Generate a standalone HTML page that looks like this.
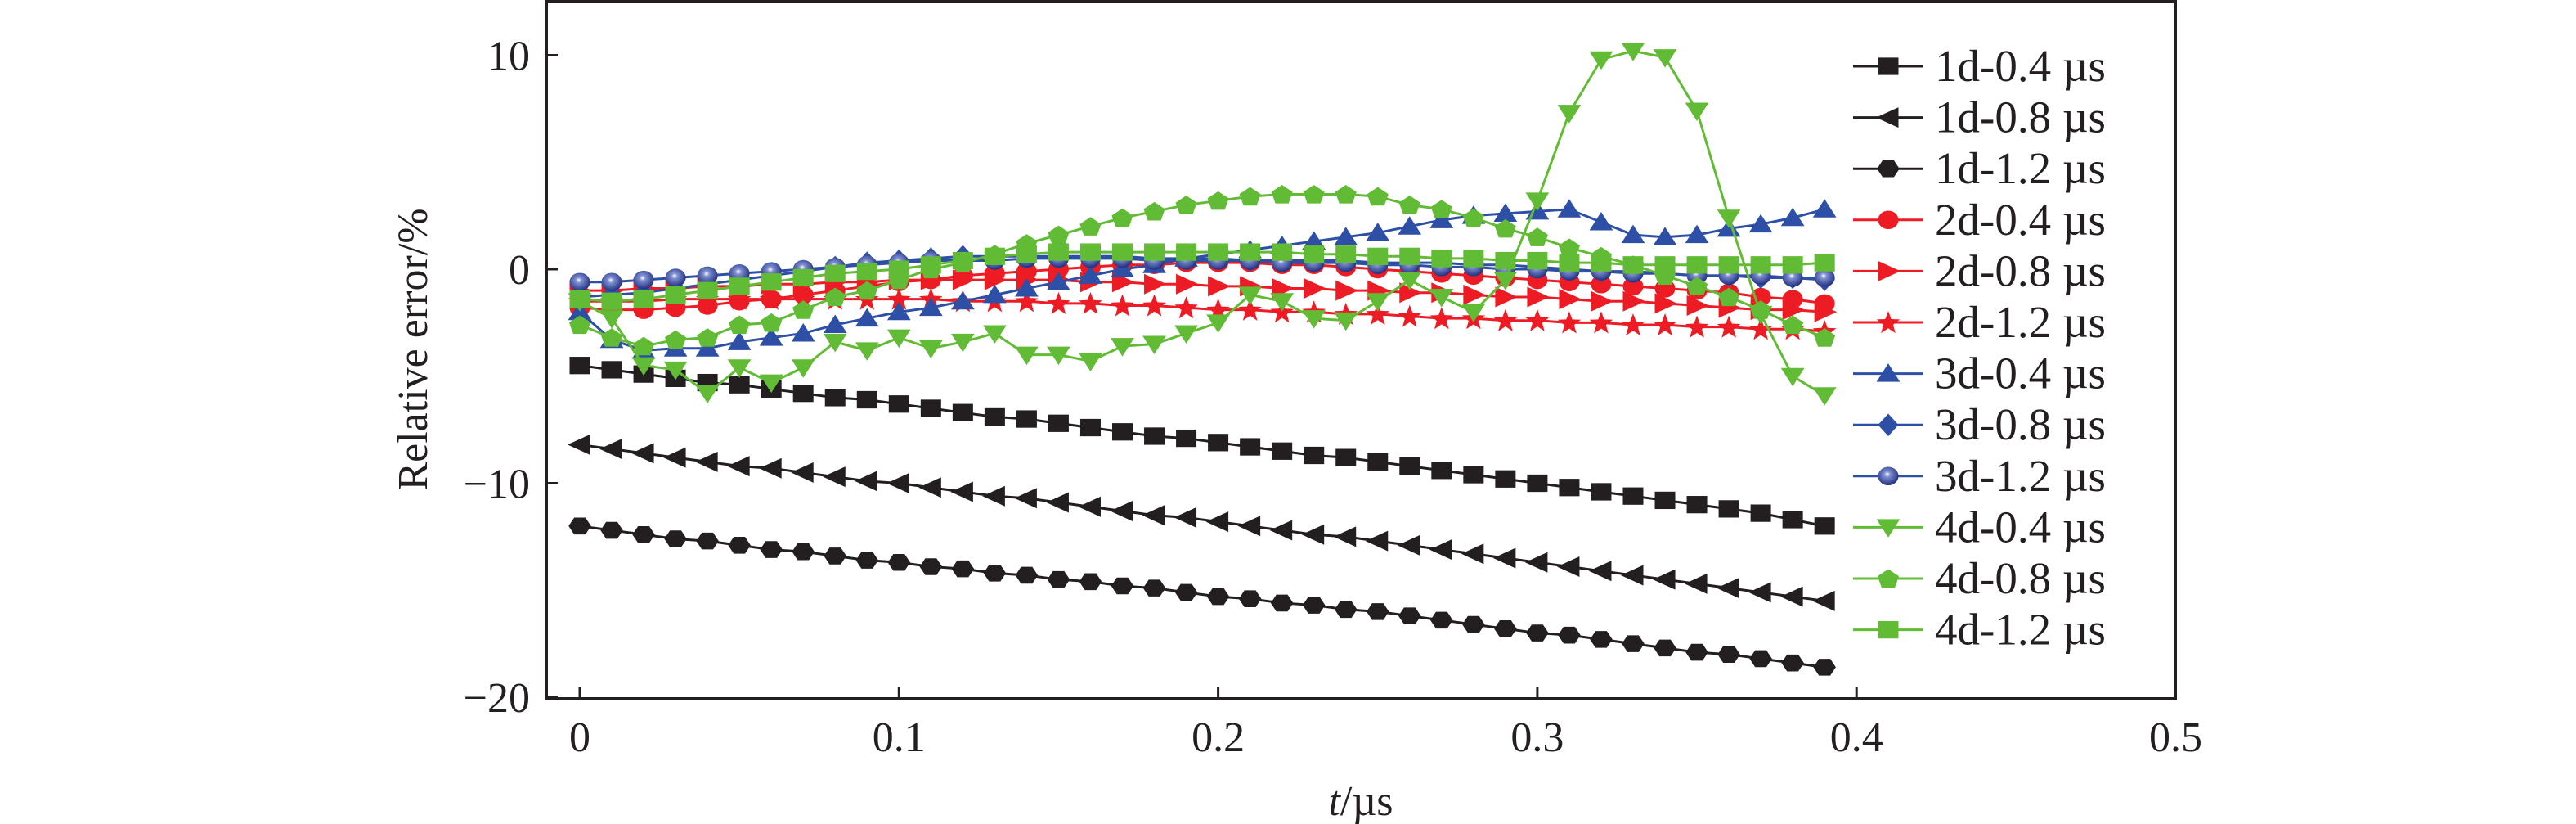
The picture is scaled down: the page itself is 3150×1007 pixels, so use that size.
<!DOCTYPE html>
<html><head><meta charset="utf-8"><style>
body{margin:0;background:#fff;}
svg{display:block;font-family:"Liberation Serif",serif;}
</style></head><body>
<svg id="chart" width="3150" height="1007" viewBox="0 0 3150 1007" xmlns="http://www.w3.org/2000/svg"></svg>
<script>
const tValues = Array.from({length:40},(_,i)=>+(i*0.01).toFixed(2));
const seriesNames = ["1d-0.4 µs","1d-0.8 µs","1d-1.2 µs","2d-0.4 µs","2d-0.8 µs","2d-1.2 µs","3d-0.4 µs","3d-0.8 µs","3d-1.2 µs","4d-0.4 µs","4d-0.8 µs","4d-1.2 µs"];
const s1d04 = [-4.5,-4.7,-4.9,-5.1,-5.3,-5.4,-5.6,-5.8,-6.0,-6.1,-6.3,-6.5,-6.7,-6.9,-7.0,-7.2,-7.4,-7.6,-7.8,-7.9,-8.1,-8.3,-8.5,-8.7,-8.8,-9.0,-9.2,-9.4,-9.6,-9.8,-10.0,-10.2,-10.4,-10.6,-10.8,-11.0,-11.2,-11.4,-11.7,-12.0];
const s1d08 = [-8.2,-8.4,-8.6,-8.8,-9.0,-9.2,-9.3,-9.5,-9.7,-9.9,-10.0,-10.2,-10.4,-10.6,-10.7,-10.9,-11.1,-11.3,-11.5,-11.6,-11.8,-12.0,-12.2,-12.4,-12.5,-12.7,-12.9,-13.1,-13.3,-13.5,-13.7,-13.9,-14.1,-14.3,-14.5,-14.7,-14.9,-15.1,-15.3,-15.5];
const s1d12 = [-12.0,-12.2,-12.4,-12.6,-12.7,-12.9,-13.1,-13.2,-13.4,-13.6,-13.7,-13.9,-14.0,-14.2,-14.3,-14.5,-14.6,-14.8,-14.9,-15.1,-15.3,-15.4,-15.6,-15.7,-15.9,-16.0,-16.2,-16.4,-16.6,-16.8,-17.0,-17.1,-17.3,-17.5,-17.7,-17.9,-18.0,-18.2,-18.4,-18.6];
const s2d04 = [-1.8,-1.9,-1.9,-1.8,-1.7,-1.5,-1.4,-1.2,-1.0,-0.8,-0.6,-0.5,-0.3,-0.2,-0.1,0.0,0.1,0.2,0.2,0.3,0.3,0.3,0.2,0.2,0.1,0.0,-0.1,-0.2,-0.3,-0.4,-0.5,-0.6,-0.7,-0.8,-0.9,-1.0,-1.1,-1.3,-1.4,-1.6];
const s2d08 = [-1.0,-1.0,-0.9,-0.9,-0.8,-0.8,-0.7,-0.7,-0.6,-0.6,-0.5,-0.5,-0.5,-0.5,-0.5,-0.5,-0.6,-0.6,-0.7,-0.7,-0.8,-0.8,-0.9,-0.9,-1.0,-1.0,-1.1,-1.1,-1.2,-1.3,-1.3,-1.4,-1.5,-1.5,-1.6,-1.7,-1.8,-1.9,-1.9,-2.0];
const s2d12 = [-1.5,-1.5,-1.5,-1.4,-1.4,-1.4,-1.4,-1.4,-1.4,-1.4,-1.4,-1.4,-1.5,-1.5,-1.5,-1.6,-1.6,-1.7,-1.7,-1.8,-1.9,-1.9,-2.0,-2.0,-2.1,-2.1,-2.2,-2.3,-2.3,-2.4,-2.4,-2.5,-2.5,-2.6,-2.6,-2.7,-2.7,-2.8,-2.8,-2.9];
const s3d04 = [-2.0,-3.3,-3.8,-3.7,-3.7,-3.4,-3.2,-3.0,-2.6,-2.3,-2.0,-1.8,-1.5,-1.2,-0.9,-0.6,-0.3,0.0,0.2,0.5,0.7,0.9,1.1,1.3,1.5,1.7,2.0,2.3,2.5,2.6,2.7,2.8,2.2,1.6,1.5,1.6,1.9,2.1,2.4,2.8];
const s3d08 = [-1.3,-1.2,-1.1,-0.9,-0.7,-0.5,-0.3,-0.1,0.1,0.3,0.4,0.5,0.6,0.6,0.6,0.6,0.6,0.6,0.5,0.5,0.5,0.4,0.4,0.4,0.4,0.3,0.3,0.3,0.2,0.2,0.1,0.0,-0.1,-0.1,-0.2,-0.3,-0.3,-0.4,-0.4,-0.5];
const s3d12 = [-0.6,-0.6,-0.5,-0.4,-0.3,-0.2,-0.1,0.0,0.1,0.2,0.3,0.4,0.4,0.4,0.5,0.5,0.5,0.5,0.4,0.4,0.4,0.4,0.3,0.3,0.3,0.2,0.2,0.1,0.1,0.0,0.0,-0.1,-0.1,-0.2,-0.2,-0.3,-0.3,-0.3,-0.4,-0.4];
const s4d04 = [-1.5,-2.3,-4.5,-4.7,-5.8,-4.6,-5.3,-4.6,-3.4,-3.8,-3.2,-3.7,-3.4,-3.0,-4.0,-4.0,-4.3,-3.6,-3.5,-3.0,-2.5,-1.2,-1.5,-2.3,-2.4,-1.5,-0.5,-1.3,-2.0,-0.5,3.2,7.3,9.8,10.2,9.9,7.4,2.4,-2.1,-5.0,-5.9];
const s4d08 = [-2.6,-3.2,-3.6,-3.3,-3.2,-2.6,-2.5,-1.9,-1.3,-1.0,-0.5,0.0,0.3,0.7,1.2,1.6,2.0,2.4,2.7,3.0,3.2,3.4,3.5,3.5,3.5,3.4,3.0,2.8,2.4,1.9,1.5,1.0,0.6,0.2,-0.3,-0.8,-1.3,-1.9,-2.6,-3.2];
const s4d12 = [-1.4,-1.5,-1.4,-1.2,-1.0,-0.8,-0.6,-0.4,-0.2,-0.1,0.0,0.2,0.4,0.6,0.7,0.8,0.8,0.8,0.8,0.8,0.8,0.8,0.8,0.7,0.7,0.6,0.6,0.5,0.5,0.4,0.4,0.3,0.3,0.2,0.2,0.2,0.2,0.2,0.2,0.3];
const xTicks = [0,0.1,0.2,0.3,0.4,0.5];
const xTickLabels = ["0","0.1","0.2","0.3","0.4","0.5"];
const yTicks = [10,0,-10,-20];
const yTickLabels = ["10","0","\u221210","\u221220"];

const allSeries = [s1d04,s1d08,s1d12,s2d04,s2d08,s2d12,s3d04,s3d08,s3d12,s4d04,s4d08,s4d12];
const colors = ["#231f20","#231f20","#231f20","#ed1c24","#ed1c24","#ed1c24","#2e4fa6","#2e4fa6","#2e4fa6","#62bb35","#62bb35","#62bb35"];
const markers = ["square","tleft","hex","circle","tright","star","tup","diamond","ball","tdown","pent","square"];
const NS="http://www.w3.org/2000/svg";
const svg=document.getElementById('chart');
const L=668,R=2660,T=0,B=854;
const xs=t=>709+t*3903;
const ys=v=>329-v*26.15;
function mk(tag,attrs,parent){const e=document.createElementNS(NS,tag);for(const k in attrs)e.setAttribute(k,attrs[k]);(parent||svg).appendChild(e);return e;}
const defs=mk('defs',{});
const rg=mk('radialGradient',{id:'ballg',cx:'0.45',cy:'0.4',r:'0.6'},defs);
mk('stop',{offset:'0','stop-color':'#ffffff'},rg);mk('stop',{offset:'0.25','stop-color':'#7f8fd0'},rg);mk('stop',{offset:'1','stop-color':'#1f2f80'},rg);

function marker(g,type,x,y,c){
  const s=12.5;
  let pts;
  switch(type){
    case 'square': return mk('rect',{x:x-s,y:y-s*0.85,width:2*s,height:1.7*s,fill:c},g);
    case 'circle': return mk('ellipse',{cx:x,cy:y,rx:s,ry:s*0.9,fill:c},g);
    case 'ball': return mk('ellipse',{cx:x,cy:y,rx:s,ry:s*0.9,fill:'url(#ballg)'},g);
    case 'tleft': pts=[[x-s*1.2,y],[x+s,y-s],[x+s,y+s]];break;
    case 'tright': pts=[[x+s*1.2,y],[x-s,y-s],[x-s,y+s]];break;
    case 'tup': pts=[[x,y-s],[x-s*1.15,y+s*0.8],[x+s*1.15,y+s*0.8]];break;
    case 'tdown': pts=[[x,y+s],[x-s*1.15,y-s*0.8],[x+s*1.15,y-s*0.8]];break;
    case 'diamond': pts=[[x,y-s*1.1],[x+s,y],[x,y+s*1.1],[x-s,y]];break;
    case 'hex': pts=[0,1,2,3,4,5].map(i=>[x+s*1.1*Math.cos(i*Math.PI/3),y+s*0.95*Math.sin(i*Math.PI/3)]);break;
    case 'pent': pts=[0,1,2,3,4].map(i=>[x+s*1.1*Math.sin(i*2*Math.PI/5),y-s*1.0*Math.cos(i*2*Math.PI/5)+1]);break;
    case 'star': pts=[];for(let i=0;i<10;i++){const r=i%2?s*0.5:s*1.2;const a=i*Math.PI/5;pts.push([x+r*Math.sin(a),y-r*Math.cos(a)+1]);}break;
  }
  return mk('polygon',{points:pts.map(p=>p.join(',')).join(' '),fill:c},g);
}

const frame=mk('rect',{x:L,y:T+2,width:R-L,height:B-T-2,fill:'none',stroke:'#231f20','stroke-width':4});


xTicks.forEach((t,i)=>{
  const tk=mk('line',{x1:xs(t),x2:xs(t),y1:B,y2:B-14,stroke:'#231f20','stroke-width':3});
  
  
  const lb=mk('text',{x:xs(t),y:918,'font-size':52,'text-anchor':'middle',fill:'#231f20'});
  lb.textContent=xTickLabels[i];
  
  
});
yTicks.forEach((v,i)=>{
  const tk=mk('line',{x1:L,x2:L+14,y1:ys(v),y2:ys(v),stroke:'#231f20','stroke-width':3});
  
  
  const lb=mk('text',{x:648,y:ys(v)+18,'font-size':52,'text-anchor':'end',fill:'#231f20'});
  lb.textContent=yTickLabels[i];
  
  
});
const xt=mk('text',{x:1664,y:996,'font-size':52,'text-anchor':'middle',fill:'#231f20'});
xt.innerHTML='<tspan font-style="italic">t</tspan>/µs';


const yt=mk('text',{x:0,y:0,'font-size':52,'text-anchor':'middle',fill:'#231f20',transform:'translate(522,427) rotate(-90)'});
yt.textContent='Relative error/%';



allSeries.forEach((vals,si)=>{
  const g=mk('g',{});
  
  
  const d=vals.map((v,i)=>(i?'L':'M')+xs(tValues[i])+','+ys(v)).join(' ');
  mk('path',{d:d,fill:'none',stroke:colors[si],'stroke-width':3},g);
  vals.forEach((v,i)=>{
    const m=marker(g,markers[si],xs(tValues[i]),ys(v),colors[si]);
    
    
  });
});

seriesNames.forEach((n,i)=>{
  const y=81+i*62.6;
  const g=mk('g',{});
  
  
  mk('line',{x1:2266,x2:2352,y1:y,y2:y,stroke:colors[i],'stroke-width':3},g);
  marker(g,markers[i],2309,y,colors[i]);
  const tx=mk('text',{x:2366,y:y+18,'font-size':55,fill:'#231f20'},g);
  tx.textContent=n;
});
</script>
</body></html>
